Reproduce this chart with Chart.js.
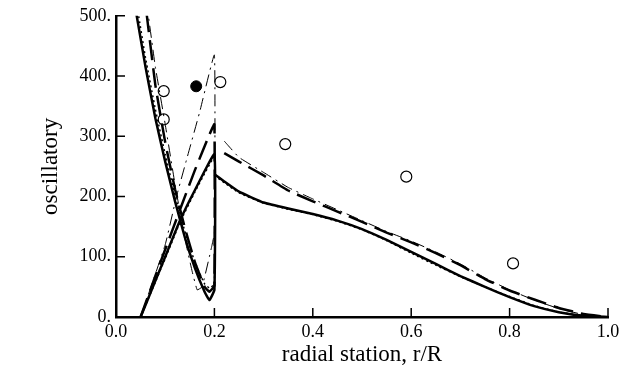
<!DOCTYPE html>
<html>
<head>
<meta charset="utf-8">
<script src="https://cdn.jsdelivr.net/npm/chart.js@4"></script>
<style>
  body { margin: 0; background: #fff; }
  #chart { display: block; }
</style>
</head>
<body>
<canvas id="chart" width="639" height="377"></canvas>
<script>
// inner region r/R < 0.2 : each curve rises, drops at 0.2, then runs back up to the left
const solidLoopX = [0.05, 0.08, 0.10, 0.13, 0.16, 0.20, 0.20, 0.19, 0.18, 0.16, 0.14, 0.12, 0.10, 0.08, 0.06, 0.04];
const solidLoopY = [0, 60, 100, 160, 210, 270, 45, 28, 42, 82, 132, 192, 258, 330, 415, 510];

const dottedLoopX = [0.05, 0.08, 0.10, 0.13, 0.16, 0.20, 0.20, 0.19, 0.18, 0.16, 0.14, 0.12, 0.10, 0.08, 0.06, 0.045];
const dottedLoopY = [0, 58, 97, 157, 207, 265, 55, 48, 55, 92, 142, 202, 270, 345, 430, 505];

const dashLoopX = [0.05, 0.08, 0.10, 0.13, 0.16, 0.19, 0.20, 0.20, 0.19, 0.18, 0.16, 0.14, 0.12, 0.10, 0.08, 0.062];
const dashLoopY = [0, 68, 112, 178, 243, 303, 320, 52, 42, 50, 92, 148, 212, 290, 385, 505];

const dotDashLoopX = [0.05, 0.10, 0.123, 0.143, 0.17, 0.20, 0.20, 0.194, 0.175, 0.165, 0.155, 0.14, 0.12, 0.10, 0.08, 0.065];
const dotDashLoopY = [0, 120, 200, 260, 340, 435, 140, 115, 50, 45, 75, 130, 220, 320, 415, 505];

// outer region r/R >= 0.2
const rightX = [0.20, 0.22, 0.25, 0.30, 0.35, 0.40, 0.45, 0.50, 0.55, 0.60, 0.65, 0.70, 0.75, 0.80, 0.85, 0.90, 0.95, 1.00];
const solidRight = [237, 225, 208, 190, 180, 171, 160, 146, 128, 108, 88, 68, 50, 33, 18, 8, 2, 0];
const dottedRight = [235, 223, 206, 189, 179, 170, 159, 145, 127, 106, 86, 67, 50, 34, 19, 8, 2, 0];
const dashRight = [null, 272, 258, 235, 210, 192, 175, 158, 140, 124, 106, 86, 63, 44, 29, 15, 5, 0];
const dotDashRight = [null, 292, 265, 240, 215, 196, 178, 160, 142, 126, 108, 88, 65, 45, 28, 14, 4, 0];

// test points
const openX = [0.097, 0.097, 0.212, 0.344, 0.59, 0.807];
const openY = [375, 328, 390, 287, 233, 89];
const filledX = [0.163];
const filledY = [383];

const xTicks = [0, 0.2, 0.4, 0.6, 0.8, 1.0];
const yTicks = [0, 100, 200, 300, 400, 500];

function pts(xs, ys) {
  return xs.map((x, i) => ({x: x, y: ys[i]}));
}

function line(label, xs, ys, width, dash) {
  return {
    label: label,
    data: pts(xs, ys),
    showLine: true,
    borderColor: "#000",
    borderWidth: width,
    borderDash: dash,
    pointRadius: 0,
    fill: false,
    tension: 0.1,
    spanGaps: false,
  };
}

const serif = "'Liberation Serif', 'DejaVu Serif', serif";

// tick marks drawn inward from the axes
const innerTicks = {
  id: "innerTicks",
  afterDatasetsDraw(chart) {
    const ctx = chart.ctx;
    const xs = chart.scales.x, ys = chart.scales.y;
    const area = chart.chartArea;
    ctx.save();
    ctx.strokeStyle = "#000";
    ctx.lineWidth = 1.5;
    ctx.beginPath();
    xTicks.forEach(v => {
      const px = xs.getPixelForValue(v);
      ctx.moveTo(px, area.bottom);
      ctx.lineTo(px, area.bottom - 9);
    });
    yTicks.forEach(v => {
      const py = ys.getPixelForValue(v);
      ctx.moveTo(area.left, py);
      ctx.lineTo(area.left + 9, py);
    });
    ctx.stroke();
    ctx.restore();
  }
};

new Chart(document.getElementById("chart"), {
  type: "scatter",
  data: {
    datasets: [
      line("solid", solidLoopX, solidLoopY, 2.5, []),
      line("solid", rightX, solidRight, 2.5, []),
      line("dotted", dottedLoopX, dottedLoopY, 1.5, [2, 3]),
      line("dotted", rightX, dottedRight, 1.5, [2, 3]),
      line("dashed", dashLoopX, dashLoopY, 2.5, [20, 8]),
      line("dashed", rightX, dashRight, 2.5, [20, 8]),
      line("dash-dot", dotDashLoopX, dotDashLoopY, 1, [12, 5, 2, 5]),
      line("dash-dot", rightX, dotDashRight, 1, [12, 5, 2, 5]),
      {
        label: "test",
        data: pts(openX, openY),
        pointRadius: 5.5,
        pointBackgroundColor: "#fff",
        pointBorderColor: "#000",
        pointBorderWidth: 1.2,
      },
      {
        label: "test 2",
        data: pts(filledX, filledY),
        pointRadius: 5.5,
        pointBackgroundColor: "#000",
        pointBorderColor: "#000",
        pointBorderWidth: 1,
      },
    ],
  },
  options: {
    responsive: false,
    devicePixelRatio: 1,
    animation: false,
    layout: {padding: {top: 14, right: 31, left: 0, bottom: 0}},
    scales: {
      x: {
        type: "linear",
        min: 0,
        max: 1,
        afterFit: s => { s.height = 60; },
        afterBuildTicks: s => { s.ticks = xTicks.map(v => ({value: v})); },
        grid: {display: false, drawTicks: false},
        border: {display: true, color: "#000", width: 2.5},
        ticks: {
          color: "#000",
          padding: 4,
          font: {family: serif, size: 18},
          callback: v => v.toFixed(1),
        },
        title: {
          display: true,
          text: "radial station, r/R",
          color: "#000",
          font: {family: serif, size: 23},
          padding: {top: 0, bottom: 8},
        },
      },
      y: {
        min: 0,
        max: 500,
        afterFit: s => { s.width = 116; },
        afterBuildTicks: s => { s.ticks = yTicks.map(v => ({value: v})); },
        grid: {display: false, drawTicks: false},
        border: {display: true, color: "#000", width: 2.5},
        ticks: {
          color: "#000",
          padding: 5,
          font: {family: serif, size: 18},
          callback: v => v + ".",
        },
        title: {
          display: true,
          text: "oscillatory",
          color: "#000",
          font: {family: serif, size: 23},
          padding: {top: 37, bottom: 0},
        },
      },
    },
    plugins: {
      legend: {display: false},
      tooltip: {enabled: false},
    },
  },
  plugins: [innerTicks],
});
</script>
</body>
</html>
